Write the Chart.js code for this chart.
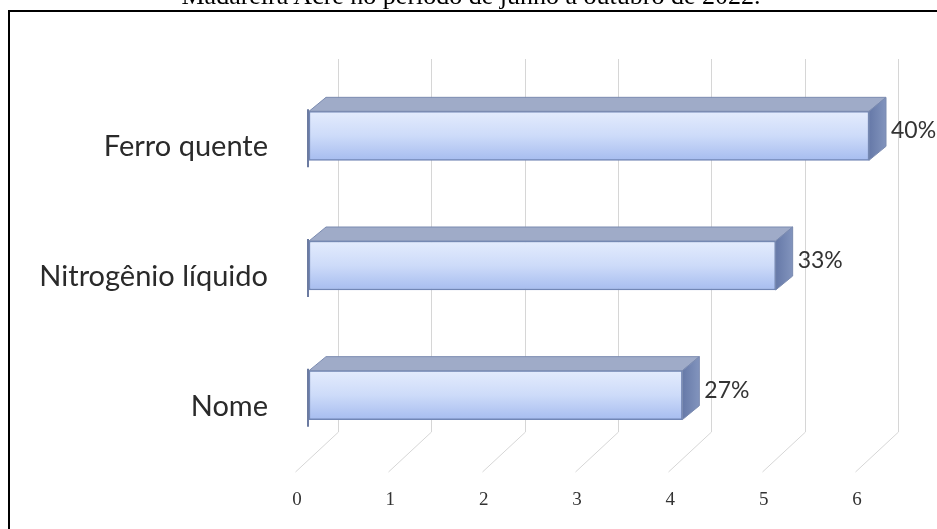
<!DOCTYPE html>
<html>
<head>
<meta charset="utf-8">
<script src="https://cdn.jsdelivr.net/npm/chart.js@4.4.0/dist/chart.umd.min.js"></script>
<style>
  html, body { margin: 0; padding: 0; background: #fff; overflow: hidden; }
  #wrap { position: relative; width: 937px; height: 529px; overflow: hidden; }
  #chart { position: absolute; left: 0; top: 0; }
  #frame { position: absolute; left: 8px; top: 10px; width: 960px; height: 560px;
           border-left: 2px solid #000; border-top: 2px solid #000; }
  #titulo { position: absolute; left: 0; top: -17px; width: 942px; text-align: center;
            font: 26px "Liberation Serif", "Times New Roman", serif; line-height: 26px; color: #000;
            white-space: nowrap; }
</style>
</head>
<body>
<div id="wrap">
  <canvas id="chart" width="937" height="529"></canvas>
  <div id="frame"></div>
  <div id="titulo">Madareira Acre no período de junho a outubro de 2022.</div>
</div>
<script>
// dados do gráfico
const categorias = ['Ferro quente', 'Nitrogênio líquido', 'Nome'];
const valores = [6, 5, 4];
const percentuais = ['40%', '33%', '27%'];
const ticksX = [0, 1, 2, 3, 4, 5, 6];

// deslocamento da "profundidade" 3D
const DX = 17, DY = -14;

// grade 3D (parede do fundo + chão)
const grade3d = {
    id: 'grade3d',
    beforeDatasetsDraw(chart) {
        const ctx = chart.ctx;
        const xs = chart.scales.x;
        ctx.save();
        ctx.strokeStyle = '#d6d6d6';
        ctx.lineWidth = 1;
        ticksX.forEach(function(v) {
            const xf = Math.round(xs.getPixelForValue(v)) + 0.5;
            const xb = xf + 29;
            ctx.beginPath();
            ctx.moveTo(xb, 59);
            ctx.lineTo(xb, 432);
            ctx.lineTo(xf - 14, 472);
            ctx.stroke();
        });
        ctx.restore();
    }
};

// faces superior e lateral das barras + rótulos de porcentagem
const barras3d = {
    id: 'barras3d',
    afterDatasetsDraw(chart) {
        const ctx = chart.ctx;
        const meta = chart.getDatasetMeta(0);
        ctx.save();
        meta.data.forEach(function(el, i) {
            const p = el.getProps(['x', 'y', 'base', 'height'], true);
            const top = p.y - p.height / 2;
            const bot = p.y + p.height / 2;
            const x0 = p.base, x1 = p.x;

            // face superior
            ctx.beginPath();
            ctx.moveTo(x0, top);
            ctx.lineTo(x0 + DX, top + DY);
            ctx.lineTo(x1 + DX, top + DY);
            ctx.lineTo(x1, top);
            ctx.closePath();
            ctx.fillStyle = '#9fabc8';
            ctx.fill();
            ctx.strokeStyle = '#7b8bb0';
            ctx.lineWidth = 1;
            ctx.stroke();

            // face lateral
            ctx.beginPath();
            ctx.moveTo(x1, top);
            ctx.lineTo(x1 + DX, top + DY);
            ctx.lineTo(x1 + DX, bot + DY);
            ctx.lineTo(x1, bot);
            ctx.closePath();
            const g = ctx.createLinearGradient(x1, 0, x1 + DX, 0);
            g.addColorStop(0, '#6679a8');
            g.addColorStop(1, '#8294bd');
            ctx.fillStyle = g;
            ctx.fill();
            ctx.stroke();

            // borda esquerda
            ctx.beginPath();
            ctx.moveTo(x0 - 1, top - 2);
            ctx.lineTo(x0 - 1, bot + 7);
            ctx.strokeStyle = '#6c7ba1';
            ctx.lineWidth = 2;
            ctx.stroke();

            // porcentagem
            ctx.fillStyle = '#333';
            ctx.font = '23px Lato, "Open Sans", sans-serif';
            ctx.textAlign = 'left';
            ctx.textBaseline = 'middle';
            ctx.fillText(percentuais[i], x1 + DX + 5, p.y - 5);
        });
        ctx.restore();
    }
};

document.addEventListener('DOMContentLoaded', function() {
    const ctx = document.getElementById('chart').getContext('2d');
    new Chart(ctx, {
        type: 'bar',
        data: {
            labels: categorias,
            datasets: [{
                data: valores,
                barThickness: 49,
                backgroundColor: function(c) {
                    const chart = c.chart;
                    if (!chart.chartArea) return '#c6d5f6';
                    const cy = chart.scales.y.getPixelForValue(c.dataIndex);
                    const g = chart.ctx.createLinearGradient(0, cy - 25, 0, cy + 25);
                    g.addColorStop(0, '#e4ecfd');
                    g.addColorStop(0.5, '#cddbf9');
                    g.addColorStop(1, '#a6bcef');
                    return g;
                },
                borderColor: '#7186b5',
                borderWidth: 1.5,
                borderSkipped: false
            }]
        },
        options: {
            indexAxis: 'y',
            responsive: false,
            animation: false,
            layout: {
                padding: { top: 71, right: 68, left: 0, bottom: 0 }
            },
            plugins: {
                legend: { display: false },
                tooltip: { enabled: false }
            },
            scales: {
                x: {
                    type: 'linear',
                    min: 0,
                    max: 6,
                    grid: { display: false, drawTicks: false },
                    border: { display: false },
                    ticks: {
                        stepSize: 1,
                        padding: 29,
                        labelOffset: -12,
                        color: '#333',
                        font: { family: '"Liberation Serif", serif', size: 19 }
                    },
                    afterFit: function(s) { s.height = 69; }
                },
                y: {
                    grid: { display: false, drawTicks: false },
                    border: { display: false },
                    ticks: {
                        padding: 41,
                        labelOffset: 11,
                        color: '#2a2a2a',
                        font: { family: 'Lato, "Open Sans", sans-serif', size: 29 }
                    },
                    afterFit: function(s) { s.width = 309; }
                }
            }
        },
        plugins: [grade3d, barras3d]
    });
});
</script>
</body>
</html>
